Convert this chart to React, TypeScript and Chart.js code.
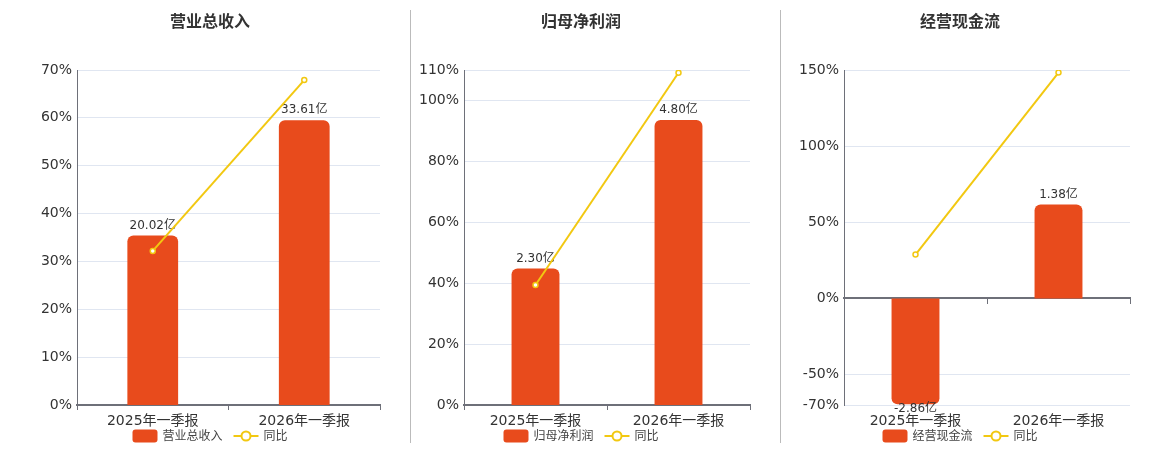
import { useEffect, useRef } from 'react';
import { Chart, ChartConfiguration, LinearScale, registerables } from 'chart.js';

const FONT = "'DejaVu Sans', 'Noto Sans CJK SC', sans-serif";

// bar values (亿) are drawn on a hidden axis whose two ends line up with the % axis ends
class SplitRatioScale extends LinearScale {
  static id = 'splitRatio';
  static defaults = {};
  toMain(value: number) {
    const o: any = this.options;
    const main = this.chart.scales.y;
    if (value >= 0) return (value / o.barMax) * (main.max as number);
    return (value / o.barMin) * (main.min as number);
  }
  getPixelForValue(value: number) {
    return this.chart.scales.y.getPixelForValue(this.toMain(value));
  }
  getValueForPixel(pixel: number) {
    const o: any = this.options;
    const main = this.chart.scales.y;
    const v = main.getValueForPixel(pixel) as number;
    return v >= 0 ? (v / main.max) * o.barMax : (v / main.min) * o.barMin;
  }
}

Chart.register(...registerables, SplitRatioScale);
Chart.defaults.font.family = FONT;

const categories = ['2025年一季报', '2026年一季报'];

const revenue = [20.02, 33.61];
const revenueYoY = [32.2, 67.9];
const revenueTicks = [0, 10, 20, 30, 40, 50, 60, 70];
const revenueBarRange = [0, 39.55];

const profit = [2.3, 4.8];
const profitYoY = [39.4, 109.1];
const profitTicks = [0, 20, 40, 60, 80, 100, 110];
const profitBarRange = [0, 5.64];

const cashFlow = [-2.86, 1.38];
const cashFlowYoY = [28.8, 148.3];
const cashFlowTicks = [-70, -50, 0, 50, 100, 150];
const cashFlowBarRange = [-2.88, 3.36];

const BAR_COLOR = '#E84B1C';
const LINE_COLOR = '#F2C811';
const AXIS_COLOR = '#6E7079';
const GRID_COLOR = '#E0E6F1';

const valueLabels = {
  id: 'valueLabels',
  afterDatasetDraw(chart: Chart, args: any) {
    const ds: any = chart.data.datasets[args.index];
    if (ds.type !== 'bar') return;
    const { ctx } = chart;
    ctx.save();
    ctx.font = `12px ${FONT}`;
    ctx.fillStyle = '#333';
    ctx.textAlign = 'center';
    ctx.textBaseline = 'middle';
    args.meta.data.forEach((el: any, i: number) => {
      const v = ds.data[i] as number;
      const y = v >= 0 ? el.y - 10 : el.y + 5;
      ctx.fillText(`${v.toFixed(2)}亿`, el.x, y);
    });
    ctx.restore();
  },
};

const legendRow = {
  id: 'legendRow',
  afterDraw(chart: Chart) {
    const { ctx } = chart;
    const pad: any = chart.options.layout?.padding;
    const cx = (pad.left + chart.width - pad.right) / 2;
    const cy = chart.height - 14;
    ctx.save();
    ctx.font = `12px ${FONT}`;
    const items = chart.data.datasets.map((ds: any) => ({ label: ds.label as string, type: ds.type }));
    const widths = items.map((it) => 25 + 5 + ctx.measureText(it.label).width);
    const total = widths.reduce((a, b) => a + b, 0) + 11 * (items.length - 1);
    let x = cx - total / 2;
    items.forEach((it, i) => {
      if (it.type === 'bar') {
        ctx.fillStyle = BAR_COLOR;
        ctx.beginPath();
        ctx.roundRect(x, cy - 6.5, 25, 13, 3);
        ctx.fill();
      } else {
        ctx.strokeStyle = LINE_COLOR;
        ctx.lineWidth = 2;
        ctx.beginPath();
        ctx.moveTo(x, cy);
        ctx.lineTo(x + 25, cy);
        ctx.stroke();
        ctx.beginPath();
        ctx.arc(x + 12.5, cy, 4.5, 0, Math.PI * 2);
        ctx.fillStyle = '#fff';
        ctx.fill();
        ctx.stroke();
      }
      ctx.fillStyle = '#444';
      ctx.textAlign = 'left';
      ctx.textBaseline = 'middle';
      ctx.fillText(it.label, x + 30, cy + 0.5);
      x += widths[i] + 11;
    });
    ctx.restore();
  },
};

interface PanelProps {
  title: string;
  values: number[];
  yoy: number[];
  ticks: number[];
  barRange: number[];
  left: number;
  width: number;
  padLeft: number;
  yWidth: number;
  zeroAxis?: boolean;
}

function Panel({ title, values, yoy, ticks, barRange, left, width, padLeft, yWidth, zeroAxis }: PanelProps) {
  const canvasRef = useRef<HTMLCanvasElement>(null);

  useEffect(() => {
    if (!canvasRef.current) return;
    const scales: any = {
      x: {
        type: 'category',
        offset: true,
        grid: zeroAxis
          ? { display: false, drawTicks: true, tickLength: 5 }
          : { drawOnChartArea: false, drawTicks: true, tickLength: 5, color: AXIS_COLOR, offset: true },
        border: zeroAxis ? { display: false } : { display: true, color: AXIS_COLOR, width: 2 },
        ticks: { color: '#333', font: { size: 14 }, padding: 3 },
        afterFit: (s: any) => {
          s.height = 25;
        },
      },
      y: {
        type: 'linear',
        position: 'left',
        min: Math.min(...ticks),
        max: Math.max(...ticks),
        grid: { color: GRID_COLOR, drawTicks: false },
        border: { display: true, color: AXIS_COLOR, width: 1 },
        ticks: { color: '#333', font: { size: 14 }, padding: 5, callback: (v: any) => `${v}%` },
        afterBuildTicks: (s: any) => {
          s.ticks = ticks.map((value) => ({ value }));
        },
        afterFit: (s: any) => {
          s.width = yWidth;
        },
      },
      yBar: {
        type: 'splitRatio',
        axis: 'y',
        display: false,
        barMin: barRange[0],
        barMax: barRange[1],
      },
    };
    if (zeroAxis) {
      scales.x2 = {
        type: 'category',
        position: { y: 0 },
        offset: true,
        grid: { offset: true, drawOnChartArea: false, drawTicks: true, tickLength: 5, color: AXIS_COLOR },
        border: { display: true, color: AXIS_COLOR, width: 2 },
        ticks: { display: false },
      };
    }

    const config: ChartConfiguration = {
      type: 'bar',
      data: {
        labels: categories,
        datasets: [
          {
            type: 'bar',
            label: title,
            data: values,
            yAxisID: 'yBar',
            backgroundColor: BAR_COLOR,
            borderRadius: 6,
            borderSkipped: 'start',
            barPercentage: 0.335,
            categoryPercentage: 1,
            order: 1,
          },
          {
            type: 'line',
            label: '同比',
            data: yoy,
            yAxisID: 'y',
            borderColor: LINE_COLOR,
            borderWidth: 2,
            pointRadius: 2.5,
            pointBorderWidth: 1.5,
            pointBackgroundColor: '#fff',
            pointBorderColor: LINE_COLOR,
            tension: 0,
            order: 0,
          },
        ] as any,
      },
      options: {
        responsive: true,
        maintainAspectRatio: false,
        animation: false,
        events: [],
        layout: { padding: { left: padLeft, right: 30, top: 0, bottom: 20 } },
        scales,
        plugins: {
          legend: { display: false },
          tooltip: { enabled: false },
          title: {
            display: true,
            text: title,
            color: '#333',
            font: { size: 16, weight: 'bold' },
            padding: { top: 13, bottom: 37.8 },
          },
        },
      },
      plugins: [valueLabels, legendRow],
    };
    const chart = new Chart(canvasRef.current, config);
    return () => chart.destroy();
  }, []);

  return (
    <div style={{ position: 'absolute', left, top: 0, width, height: 450 }}>
      <canvas ref={canvasRef} />
    </div>
  );
}

export default function App() {
  return (
    <div style={{ position: 'absolute', left: 0, top: 0, width: 1160, height: 450, background: '#fff' }}>
      <Panel title="营业总收入" values={revenue} yoy={revenueYoY} ticks={revenueTicks} barRange={revenueBarRange}
        left={0} width={410} padLeft={40} yWidth={37} />
      <Panel title="归母净利润" values={profit} yoy={profitYoY} ticks={profitTicks} barRange={profitBarRange}
        left={411} width={369} padLeft={1} yWidth={52} />
      <Panel title="经营现金流" values={cashFlow} yoy={cashFlowYoY} ticks={cashFlowTicks} barRange={cashFlowBarRange}
        left={781} width={379} padLeft={9} yWidth={54} zeroAxis />
      <div style={{ position: 'absolute', left: 410, top: 10, width: 1, height: 433, background: '#BBBBBB' }} />
      <div style={{ position: 'absolute', left: 780, top: 10, width: 1, height: 433, background: '#BBBBBB' }} />
    </div>
  );
}
